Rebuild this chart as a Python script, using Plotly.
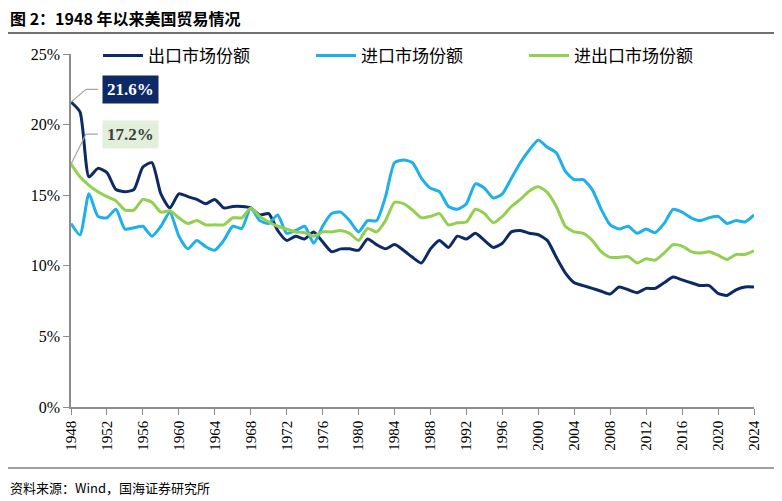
import plotly.graph_objects as go

# 年份
years = list(range(1948, 2025))

# 出口市场份额 (%)
export_share = [
    21.6, 20.9, 16.3, 16.9, 16.6, 15.4, 15.25, 15.4, 17.0, 17.3,
    15.1, 14.1, 15.1, 14.9, 14.7, 14.4, 14.7, 14.1, 14.2, 14.2,
    14.1, 13.6, 13.7, 12.5, 11.8, 12.1, 11.9, 12.4, 11.7, 11.0,
    11.2, 11.2, 11.1, 11.9, 11.5, 11.2, 11.5, 11.1, 10.6, 10.2,
    11.2, 11.8, 11.3, 12.1, 11.9, 12.3, 11.8, 11.3, 11.6, 12.4,
    12.5, 12.3, 12.2, 11.8, 10.6, 9.5, 8.8, 8.6, 8.4, 8.2,
    8.0, 8.5, 8.3, 8.1, 8.4, 8.4, 8.8, 9.2, 9.0, 8.8,
    8.6, 8.6, 8.05, 7.9, 8.3, 8.5, 8.5,
]

# 进口市场份额 (%)
import_share = [
    13.0, 12.2, 15.1, 13.5, 13.4, 14.0, 12.6, 12.7, 12.8, 12.1,
    12.8, 13.8, 12.1, 11.2, 11.8, 11.35, 11.1, 11.8, 12.8, 12.65,
    14.1, 13.2, 13.0, 13.6, 12.3, 12.5, 12.8, 11.6, 12.8, 13.7,
    13.8, 13.2, 12.4, 13.2, 13.2, 14.9, 17.3, 17.5, 17.3, 16.2,
    15.5, 15.25, 14.2, 14.0, 14.4, 15.8, 15.5, 14.8, 15.1, 16.2,
    17.3, 18.2, 18.9, 18.4, 18.0, 16.7, 16.1, 16.1, 15.4, 14.0,
    12.9, 12.6, 12.8, 12.3, 12.6, 12.35, 13.0, 14.0, 13.8, 13.4,
    13.2, 13.4, 13.5, 13.0, 13.2, 13.1, 13.6,
]

# 进出口市场份额 (%)
total_share = [
    17.2, 16.3, 15.7, 15.25, 14.9, 14.6, 13.95, 13.95, 14.7, 14.5,
    13.8, 13.9, 13.4, 13.0, 13.2, 12.9, 12.9, 12.9, 13.4, 13.4,
    14.1, 13.5, 13.1, 12.8, 12.6, 12.4, 12.35, 12.1, 12.4, 12.4,
    12.5, 12.3, 11.8, 12.65, 12.4, 13.2, 14.5, 14.4, 13.95, 13.4,
    13.5, 13.7, 12.9, 13.05, 13.1, 14.0, 13.7, 13.05, 13.5, 14.2,
    14.7, 15.3, 15.6, 15.2, 14.2, 12.8, 12.4, 12.3, 11.8, 11.0,
    10.6, 10.6, 10.65, 10.2, 10.5, 10.4, 10.9, 11.5, 11.4, 11.0,
    10.9, 11.0, 10.75, 10.45, 10.8, 10.8, 11.05,
]

x_ticks = list(range(1948, 2025, 4))
y_ticks = [0, 5, 10, 15, 20, 25]
y_labels = [f"{v}%" for v in y_ticks]

NAVY = "#0e2a66"
SKY = "#1eb0ea"
GREEN = "#92d050"
AXIS = "#8c8c8c"
SERIF = "Liberation Serif"
CJK = "Noto Sans CJK SC"

fig = go.Figure()
for name, vals, col in [
    ("出口市场份额", export_share, NAVY),
    ("进口市场份额", import_share, SKY),
    ("进出口市场份额", total_share, GREEN),
]:
    fig.add_trace(go.Scatter(
        x=years, y=vals, name=name, mode="lines",
        line=dict(color=col, width=3, shape="spline", smoothing=0.6),
    ))

# 标注折线
for val, by in [(export_share[0], 22.5), (total_share[0], 19.33)]:
    fig.add_shape(
        type="path", xref="x", yref="y",
        path=f"M {years[0]},{val} L {years[0] + 1.67},{by} L {years[0] + 3.0},{by}",
        line=dict(color="#a6a6a6", width=1.2),
    )

fig.add_annotation(
    x=years[0] + 6.6, y=22.5, xref="x", yref="y", showarrow=False,
    text=f"<b>{export_share[0]:.1f}%</b>",
    font=dict(family=SERIF, size=17, color="white"),
    bgcolor=NAVY, borderpad=4,
)
fig.add_annotation(
    x=years[0] + 6.6, y=19.33, xref="x", yref="y", showarrow=False,
    text=f"<b>{total_share[0]:.1f}%</b>",
    font=dict(family=SERIF, size=17, color="#404040"),
    bgcolor="#e2efda", borderpad=4,
)

# 页面有 8px 的 body 边距，图整体会往右下偏，这里先扣掉
OFF = 8
W, H = 782, 501
PL, PR, PT, PB = 71, 754, 54, 407   # 绘图区在截图里的像素位置
L, T = PL - OFF, PT - OFF
R, B = W - (PR - OFF), H - (PB - OFF)
pw, ph = PR - PL, PB - PT


def px(xp):
    return (xp - PL) / pw


def py(yp):
    return (PB - yp) / ph


# 标题、来源
fig.add_annotation(
    x=px(8), y=py(18), xref="paper", yref="paper", showarrow=False,
    text="<b>图 2：1948 年以来美国贸易情况</b>",
    font=dict(family=CJK, size=16, color="black"),
    xanchor="left", yanchor="middle",
)
fig.add_annotation(
    x=px(8), y=py(487), xref="paper", yref="paper", showarrow=False,
    text="资料来源：Wind，国海证券研究所",
    font=dict(family=CJK, size=13, color="black"),
    xanchor="left", yanchor="middle",
)

fig.add_shape(type="line", xref="paper", yref="paper",
              x0=px(0), x1=px(782), y0=py(33), y1=py(33),
              line=dict(color="#404040", width=1.5))
fig.add_shape(type="line", xref="paper", yref="paper",
              x0=px(5), x1=px(777), y0=py(468), y1=py(468),
              line=dict(color="#404040", width=1.2))

fig.update_layout(
    width=W, height=H,
    margin=dict(l=L, r=R, t=T, b=B, autoexpand=False),
    plot_bgcolor="white", paper_bgcolor="white",
    legend=dict(
        orientation="h", x=px(98), y=py(56), xanchor="left", yanchor="middle",
        font=dict(family=CJK, size=17, color="black"),
        entrywidth=158, entrywidthmode="pixels", itemwidth=40,
        bgcolor="rgba(0,0,0,0)",
    ),
    xaxis=dict(
        range=[1948, 2024], tickvals=x_ticks, tickangle=-90,
        showline=True, linecolor=AXIS, linewidth=1.5,
        ticks="outside", ticklen=6, tickcolor=AXIS, showgrid=False, zeroline=False,
        tickfont=dict(family=SERIF, size=15, color="black"),
    ),
    yaxis=dict(
        range=[0, 25], tickvals=y_ticks, ticktext=y_labels,
        showline=True, linecolor=AXIS, linewidth=1.5,
        ticks="outside", ticklen=6, tickcolor=AXIS, showgrid=False, zeroline=False,
        tickfont=dict(family=SERIF, size=16, color="black"),
    ),
)

fig.write_html("out.html")
